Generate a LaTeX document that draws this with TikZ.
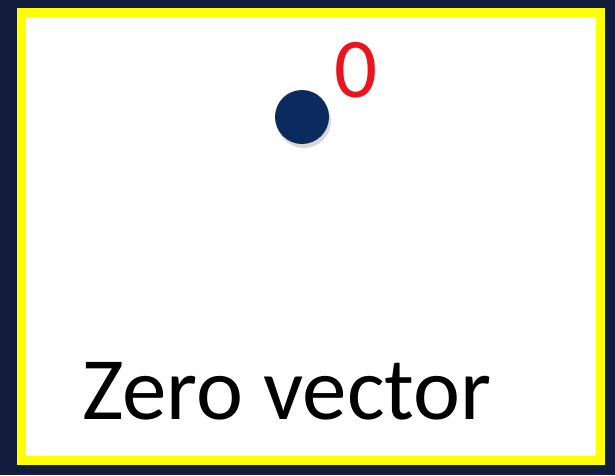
\documentclass[tikz,border=0pt]{standalone}
\usepackage{fontspec}
\setmainfont{Carlito}
\usetikzlibrary{shadows}
\definecolor{navy}{HTML}{141C3E}
\definecolor{frame}{HTML}{FFFF00}
\definecolor{dot}{HTML}{0B2A5E}
\definecolor{zero}{HTML}{E8141E}
\tikzset{
  every node/.style={inner sep=0pt,outer sep=0pt},
  vecdot/.style={circle,fill=dot,minimum size=54pt,drop shadow={shadow xshift=2pt,shadow yshift=-4pt,opacity=0.25,fill=black!60}},
  veclabel/.style={font=\fontsize{85}{90}\selectfont,text=zero},
  caption/.style={font=\fontsize{89}{96}\selectfont,text=black},
}
\begin{document}
\begin{tikzpicture}[x=1pt,y=-1pt]
\useasboundingbox (0,0) rectangle (615,475);
% background and frame
\fill[navy] (0,0) rectangle (615,475);
\filldraw[fill=white,draw=frame,line width=9pt] (21.5,12.5) rectangle (600.5,460.5);

% the zero vector
\node[vecdot] (origin) at (302,117) {};
\node[veclabel,anchor=base west] (zerolabel) at (334,97) {0};

\node[caption,anchor=base west] (title) at (82,419) {Zero vector};
\end{tikzpicture}
\end{document}
